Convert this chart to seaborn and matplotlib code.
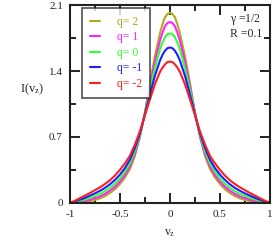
import matplotlib
matplotlib.use('Agg')
import matplotlib.pyplot as plt
from matplotlib.ticker import MultipleLocator
import numpy as np
import pandas as pd
import seaborn as sns

# right half of each curve (curves are symmetric about v_z = 0)
vz_half = [0.0, 0.025, 0.05, 0.075, 0.1, 0.15, 0.2, 0.25, 0.3, 0.35, 0.4, 0.45,
           0.5, 0.55, 0.6, 0.65, 0.7, 0.75, 0.8, 0.85, 0.9, 0.95, 1.0]
i_q2 = [2.02, 2.005, 1.97, 1.895, 1.80, 1.56, 1.27, 0.96, 0.70, 0.50, 0.36, 0.27,
        0.20, 0.145, 0.105, 0.072, 0.048, 0.031, 0.019, 0.01, 0.005, 0.002, 0.0]
i_q1 = [1.92, 1.91, 1.875, 1.805, 1.72, 1.50, 1.24, 0.955, 0.71, 0.523, 0.387, 0.297,
        0.227, 0.172, 0.13, 0.095, 0.069, 0.05, 0.034, 0.022, 0.013, 0.006, 0.0]
i_q0 = [1.80, 1.79, 1.76, 1.70, 1.63, 1.43, 1.20, 0.95, 0.725, 0.55, 0.42, 0.33,
        0.26, 0.204, 0.16, 0.124, 0.095, 0.073, 0.053, 0.036, 0.022, 0.01, 0.0]
i_qm1 = [1.65, 1.642, 1.615, 1.57, 1.51, 1.35, 1.15, 0.94, 0.74, 0.585, 0.46, 0.37,
         0.30, 0.244, 0.197, 0.159, 0.128, 0.101, 0.077, 0.054, 0.034, 0.016, 0.0]
i_qm2 = [1.50, 1.495, 1.47, 1.435, 1.39, 1.26, 1.10, 0.93, 0.76, 0.62, 0.50, 0.42,
         0.35, 0.29, 0.24, 0.20, 0.165, 0.135, 0.105, 0.078, 0.05, 0.023, 0.0]

labels = ['q= 2', 'q= 1', 'q= 0', 'q= -1', 'q= -2']
colors = ['#b0aa1c', '#ff22ff', '#33ff33', '#1e1eff', '#ff1e1e']
series = [i_q2, i_q1, i_q0, i_qm1, i_qm2]

rows = []
for lab, vals in zip(labels, series):
    v = np.array(vz_half)
    y = np.array(vals)
    full_v = np.concatenate([-v[::-1], v[1:]])
    full_y = np.concatenate([y[::-1], y[1:]])
    for a, b in zip(full_v, full_y):
        rows.append({'vz': a, 'I': b, 'q': lab})
df = pd.DataFrame(rows)

sns.set_style('ticks')
plt.rcParams['font.family'] = ['Liberation Serif', 'DejaVu Serif']
plt.rcParams['mathtext.fontset'] = 'stix'

fig = plt.figure(figsize=(2.73, 2.41), dpi=100)
ax = fig.add_axes([0.256, 0.158, 0.733, 0.821])

sns.lineplot(data=df, x='vz', y='I', hue='q', hue_order=labels,
             palette=colors, linewidth=1.5, ax=ax, sort=False)

ax.set_xlim(-1, 1)
ax.set_ylim(0, 2.1)
ax.set_xticks([-1, -0.5, 0, 0.5, 1])
ax.set_xticklabels(['-1', '-0.5', '0', '0.5', '1'], fontsize=8)
ax.set_yticks([0, 0.7, 1.4, 2.1])
ax.set_yticklabels(['0', '0.7', '1.4', '2.1'], fontsize=8)
ax.xaxis.set_minor_locator(MultipleLocator(0.25))
ax.yaxis.set_minor_locator(MultipleLocator(0.35))

ax.tick_params(which='both', direction='in', top=True, right=True,
               width=1.4, colors='#222222', labelcolor='#222222')
ax.tick_params(which='major', length=7, pad=5)
ax.tick_params(which='minor', length=4)
for s in ax.spines.values():
    s.set_linewidth(1.5)
    s.set_color('#222222')

ax.set_xlabel(r'$\mathregular{v_z}$', fontsize=8.5, labelpad=6)
ax.set_ylabel(r'$\mathregular{I(v_z)}$', fontsize=9, rotation=0)
ax.yaxis.set_label_coords(-0.19, 0.535)

leg = ax.legend(loc='upper left', bbox_to_anchor=(0.06, 0.985),
                fontsize=8.5, frameon=True, fancybox=False,
                handlelength=0.9, handletextpad=1.4, labelspacing=0.3,
                borderpad=0.65, borderaxespad=0)
leg.get_frame().set_edgecolor('#222222')
leg.get_frame().set_linewidth(1.2)
for txt, c in zip(leg.get_texts(), colors):
    txt.set_color(c)

ax.text(0.8, 0.925, r'$\mathregular{\gamma}$ =1/2', transform=ax.transAxes,
        fontsize=8.5, ha='left', va='center')
ax.text(0.8, 0.855, 'R =0.1', transform=ax.transAxes,
        fontsize=8.5, ha='left', va='center')

fig.savefig('out.png', dpi=100)
